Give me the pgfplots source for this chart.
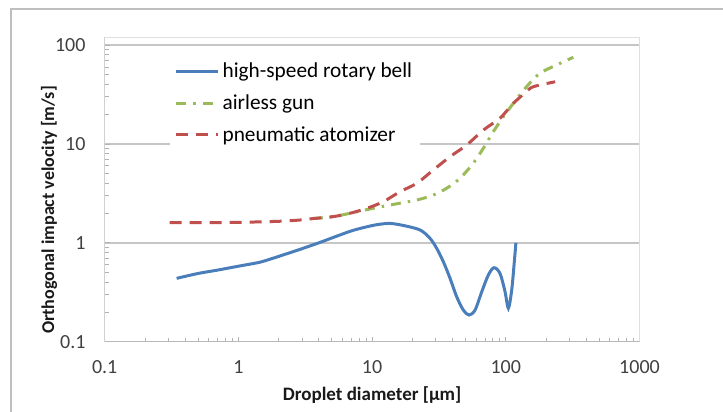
\documentclass[border=0pt]{standalone}
\usepackage{fontspec}
\setmainfont{Carlito}
\usepackage{pgfplots}
\pgfplotsset{compat=1.18}

\definecolor{bellblue}{HTML}{4A7EBB}
\definecolor{gungreen}{HTML}{9BBB59}
\definecolor{pneured}{HTML}{C0504D}
\definecolor{tickgray}{HTML}{404040}

\begin{document}
\begin{tikzpicture}
  \useasboundingbox (0pt,0pt) rectangle (723pt,412pt);
  % chart frame, runs off the right and bottom edge
  \draw[gray!50, line width=1.5pt] (11pt,0pt) -- (11pt,403pt) -- (723pt,403pt);

  \begin{axis}[
      at={(104.7pt,70.3pt)}, anchor=south west,
      scale only axis,
      width=534.8pt, height=304.7pt,
      xmode=log, ymode=log,
      xmin=0.1, xmax=1000,
      ymin=0.1, ymax=120.5,
      xtick={0.1,1,10,100,1000},
      xticklabels={0.1,1,10,100,1000},
      ytick={0.1,1,10,100},
      yticklabels={0.1,1,10,100},
      axis line style={gray!25},
      tick align=inside,
      xtick pos=bottom, ytick pos=left,
      tick style={gray!60, line width=0.8pt},
      major tick length=5pt, minor tick length=4pt,
      ymajorgrids,
      major grid style={gray!45, line width=1.4pt},
      tick label style={font=\fontsize{20}{23}\selectfont, text=tickgray},
      xticklabel style={anchor=center, yshift=-25pt},
      yticklabel style={inner sep=0pt, anchor=east, xshift=-19pt},
      xlabel={\textbf{Droplet diameter [µm]}},
      ylabel={\textbf{Orthogonal impact velocity [m/s]}},
      label style={text=black!90},
      xlabel style={font=\fontsize{19}{22}\selectfont,
        at={(axis description cs:0.5,0)}, anchor=center, yshift=-53.3pt},
      ylabel style={font=\fontsize{18}{21}\selectfont,
        at={(axis description cs:-0.1042,0.432)}, anchor=center},
      legend style={at={(rel axis cs:0.121,0.951)}, anchor=north west,
        draw=none, fill=white, font=\fontsize{21.3}{24}\selectfont,
        inner xsep=5pt, inner ysep=8pt, row sep=9.5pt,
        nodes={inner sep=3pt}},
      legend cell align=left,
      legend image code/.code={\draw[#1] (0pt,0pt) -- (42pt,0pt);},
    ]
    % high-speed rotary bell
    \addplot[bellblue, line width=3pt, smooth] coordinates {
      (0.345,0.437)(0.5,0.49)(0.7,0.53)(1.0,0.58)(1.4,0.63)(1.65,0.67)
      (2.2,0.76)(2.9,0.86)(4,1.0)(5.1,1.13)(7,1.32)(9.1,1.45)(11,1.53)
      (13.6,1.57)(17,1.5)(22.8,1.35)(27.1,1.11)(30.4,0.88)(34.1,0.644)
      (38.3,0.437)(42.9,0.285)(48.1,0.209)(53.1,0.186)(58.9,0.209)
      (66.1,0.32)(74.0,0.472)(81.6,0.56)(90.5,0.49)(98.7,0.32)
      (104.5,0.218)(110.7,0.333)(115.8,0.644)(119,1.0)
    };
    \addlegendentry{high-speed rotary bell}
    % airless gun
    \addplot[gungreen, line width=3pt, smooth,
      dash pattern=on 10pt off 7pt on 2.5pt off 7pt] coordinates {
      (3.6,1.76)(5.13,1.84)(6.84,1.99)(9.66,2.2)(13.6,2.41)(21.6,2.71)
      (28.7,3.04)(36.1,3.56)(45.4,4.49)(57.1,6.37)(67.9,9.03)(80.7,13.3)
      (95.8,18.8)(113.8,25.7)(143,37.9)(180,51.8)(240,62.8)(320,75.2)
    };
    \addlegendentry{airless gun}
    % pneumatic atomizer
    \addplot[pneured, line width=3pt, smooth,
      dash pattern=on 12pt off 8pt] coordinates {
      (0.306,1.60)(0.5,1.60)(1,1.61)(2,1.65)(2.89,1.70)(3.65,1.76)
      (5.13,1.84)(6.84,1.99)(9.12,2.23)(12.1,2.6)(16.2,3.29)(21.6,4.0)
      (28.7,5.45)(38.3,7.43)(51,9.75)(67.9,13.8)(90.5,18.2)(113.8,25.7)
      (143,33.8)(161,37.9)(234,42.5)
    };
    \addlegendentry{pneumatic atomizer}
    % left and bottom spines
    \draw[gray!55, line width=0.9pt] (rel axis cs:0,1) -- (rel axis cs:0,0) -- (rel axis cs:1,0);
  \end{axis}
\end{tikzpicture}
\end{document}
